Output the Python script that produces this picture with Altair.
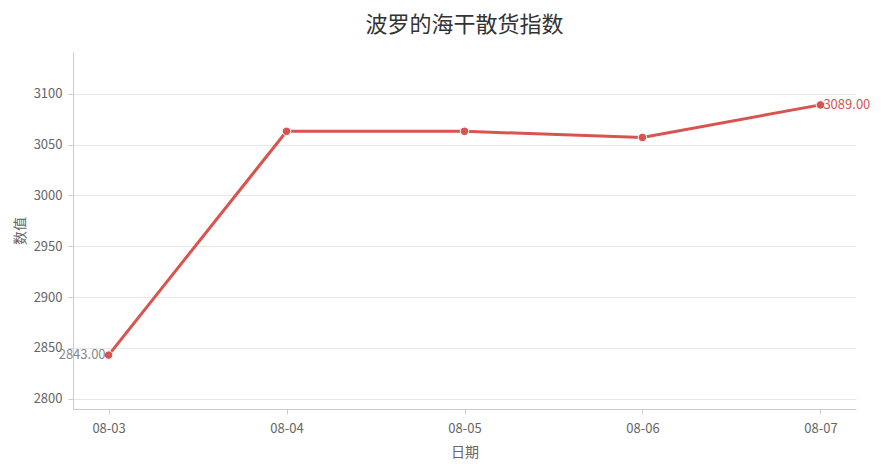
import altair as alt
import pandas as pd

dates = ["08-03", "08-04", "08-05", "08-06", "08-07"]
values = [2843.0, 3063.0, 3063.0, 3057.0, 3089.0]

first_label = ["2843.00"]
last_label = ["3089.00"]

FONT = "Noto Sans CJK SC"
RED = "#d9534f"

df = pd.DataFrame({"date": dates, "value": values})
df_first = pd.DataFrame({"date": [dates[0]], "value": [values[0]], "label": first_label})
df_last = pd.DataFrame({"date": [dates[-1]], "value": [values[-1]], "label": last_label})

x_enc = alt.X("date:O", title="日期", sort=dates,
              scale=alt.Scale(type="point", padding=0.2),
              axis=alt.Axis(labelAngle=0, grid=False, tickSize=5, labelPadding=8,
                            titlePadding=10))
y_enc = alt.Y("value:Q", title="数值",
              scale=alt.Scale(domain=[2790, 3141], nice=False, zero=False),
              axis=alt.Axis(values=[2800, 2850, 2900, 2950, 3000, 3050, 3100], format="d",
                            tickSize=5, labelPadding=6, titlePadding=6, grid=True))

base = alt.Chart(df).encode(x=x_enc, y=y_enc)
line = base.mark_line(color=RED, strokeWidth=3)
pts = base.mark_point(color=RED, fill=RED, filled=True, size=72, opacity=1,
                      stroke="white", strokeWidth=1)

lab1 = alt.Chart(df_first).mark_text(align="right", baseline="middle", dx=-3, dy=0,
                                     fontSize=13, color="#888888", font=FONT).encode(
    x=alt.X("date:O", sort=dates), y="value:Q", text="label:N")
lab2 = alt.Chart(df_last).mark_text(align="left", baseline="middle", dx=3, dy=0,
                                    fontSize=13, color=RED, font=FONT).encode(
    x=alt.X("date:O", sort=dates), y="value:Q", text="label:N")

chart = (line + pts + lab1 + lab2).properties(
    width=783, height=357,
    title=alt.TitleParams("波罗的海干散货指数", fontSize=22, font=FONT, color="#333333",
                          fontWeight="normal", anchor="middle", offset=15),
    autosize=alt.AutoSizeParams(type="none"),
    padding={"left": 65, "top": 44, "right": 20, "bottom": 58},
    background="white",
).configure_view(strokeWidth=0).configure_axis(
    labelFont=FONT, titleFont=FONT, labelFontSize=13, titleFontSize=14,
    labelColor="#666666", titleColor="#666666", titleFontWeight="normal",
    domainColor="#cccccc", tickColor="#cccccc", gridColor="#e6e6e6",
)

chart.save("out.html", embed_options={"renderer": "svg", "actions": False})
